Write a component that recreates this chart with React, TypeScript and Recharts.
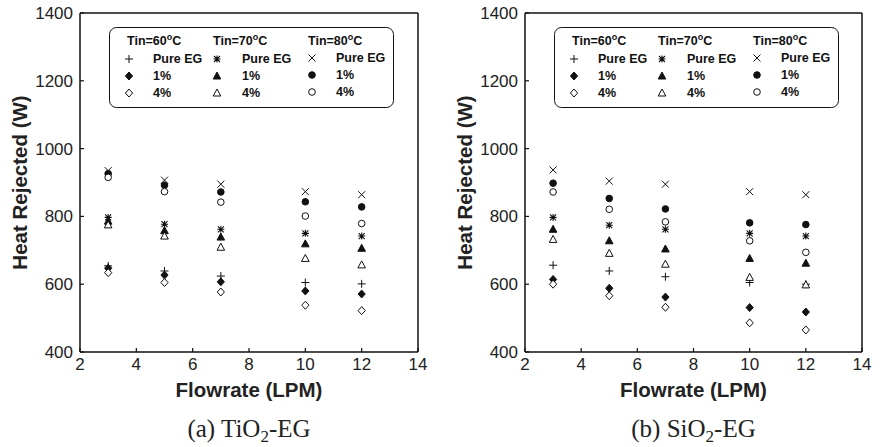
import { ScatterChart, Scatter, XAxis, YAxis, ReferenceLine, Legend, Label } from 'recharts'

const flowrates = [3, 5, 7, 10, 12]
const xTicks = [2, 4, 6, 8, 10, 12, 14]
const yTicks = [400, 600, 800, 1000, 1200, 1400]
const temps = [60, 70, 80]

// (a) TiO2-EG, heat rejected (W) at each flowrate
const tio2_60_pure = [654, 639, 624, 605, 601]
const tio2_60_1 = [647, 627, 607, 580, 571]
const tio2_60_4 = [634, 605, 577, 538, 522]
const tio2_70_pure = [797, 777, 762, 750, 742]
const tio2_70_1 = [786, 758, 739, 719, 706]
const tio2_70_4 = [775, 742, 709, 676, 657]
const tio2_80_pure = [935, 907, 895, 873, 864]
const tio2_80_1 = [926, 892, 872, 843, 828]
const tio2_80_4 = [915, 873, 842, 801, 779]

// (b) SiO2-EG
const sio2_60_pure = [656, 639, 622, 605, 600]
const sio2_60_1 = [614, 588, 562, 531, 518]
const sio2_60_4 = [600, 566, 532, 486, 465]
const sio2_70_pure = [797, 774, 762, 750, 742]
const sio2_70_1 = [762, 728, 704, 676, 662]
const sio2_70_4 = [732, 691, 659, 620, 598]
const sio2_80_pure = [937, 904, 895, 873, 864]
const sio2_80_1 = [898, 853, 822, 781, 776]
const sio2_80_4 = [872, 821, 784, 728, 694]

type Kind = 'plus' | 'diamond' | 'diamondOpen' | 'star' | 'triangle' | 'triangleOpen' | 'cross' | 'circle' | 'circleOpen'

const seriesDefs: { key: string; temp: number; label: string; kind: Kind }[] = [
  { key: '60-pure', temp: 60, label: 'Pure EG', kind: 'plus' },
  { key: '60-1', temp: 60, label: '1%', kind: 'diamond' },
  { key: '60-4', temp: 60, label: '4%', kind: 'diamondOpen' },
  { key: '70-pure', temp: 70, label: 'Pure EG', kind: 'star' },
  { key: '70-1', temp: 70, label: '1%', kind: 'triangle' },
  { key: '70-4', temp: 70, label: '4%', kind: 'triangleOpen' },
  { key: '80-pure', temp: 80, label: 'Pure EG', kind: 'cross' },
  { key: '80-1', temp: 80, label: '1%', kind: 'circle' },
  { key: '80-4', temp: 80, label: '4%', kind: 'circleOpen' },
]

const tio2Values: Record<string, number[]> = {
  '60-pure': tio2_60_pure, '60-1': tio2_60_1, '60-4': tio2_60_4,
  '70-pure': tio2_70_pure, '70-1': tio2_70_1, '70-4': tio2_70_4,
  '80-pure': tio2_80_pure, '80-1': tio2_80_1, '80-4': tio2_80_4,
}
const sio2Values: Record<string, number[]> = {
  '60-pure': sio2_60_pure, '60-1': sio2_60_1, '60-4': sio2_60_4,
  '70-pure': sio2_70_pure, '70-1': sio2_70_1, '70-4': sio2_70_4,
  '80-pure': sio2_80_pure, '80-1': sio2_80_1, '80-4': sio2_80_4,
}

const SANS = '"Liberation Sans", Arial, sans-serif'
const SERIF = '"Liberation Serif", "Times New Roman", serif'
const INK = '#111'

function Marker({ cx, cy, kind }: { cx: number; cy: number; kind: Kind }) {
  const s = 3.5
  switch (kind) {
    case 'plus':
      return <path d={`M${cx - 4},${cy}H${cx + 4}M${cx},${cy - 4}V${cy + 4}`} stroke={INK} strokeWidth={1} fill="none" />
    case 'cross':
      return <path d={`M${cx - s},${cy - s}L${cx + s},${cy + s}M${cx + s},${cy - s}L${cx - s},${cy + s}`} stroke={INK} strokeWidth={1} fill="none" />
    case 'star':
      return (
        <path
          d={`M${cx - 3},${cy - 3}L${cx + 3},${cy + 3}M${cx + 3},${cy - 3}L${cx - 3},${cy + 3}M${cx - 3.5},${cy}H${cx + 3.5}M${cx},${cy - 3.5}V${cy + 3.5}`}
          stroke={INK} strokeWidth={1.1} fill="none"
        />
      )
    case 'diamond':
    case 'diamondOpen':
      return (
        <path
          d={`M${cx},${cy - 4}L${cx + 3.6},${cy}L${cx},${cy + 4}L${cx - 3.6},${cy}Z`}
          fill={kind === 'diamond' ? INK : '#fff'} stroke={INK} strokeWidth={1}
        />
      )
    case 'triangle':
    case 'triangleOpen':
      return (
        <path
          d={`M${cx},${cy - 4}L${cx + 3.8},${cy + 3}L${cx - 3.8},${cy + 3}Z`}
          fill={kind === 'triangle' ? INK : '#fff'} stroke={INK} strokeWidth={1}
        />
      )
    case 'circle':
    case 'circleOpen':
      return <circle cx={cx} cy={cy} r={3.3} fill={kind === 'circle' ? INK : '#fff'} stroke={INK} strokeWidth={1} />
  }
  return null
}

function YTick({ x, y, payload }: any) {
  // x is axis - 7 (tickSize 0, tickMargin 7); draw the inward tick ourselves
  return (
    <g>
      <line x1={x + 7} x2={x + 11} y1={y} y2={y} stroke={INK} strokeWidth={1.2} />
      <text x={x} y={y} dy={6} textAnchor="end" fontFamily={SANS} fontSize={17} fill="#222">{payload.value}</text>
    </g>
  )
}

function XTick({ x, y, payload }: any) {
  return (
    <g>
      <line x1={x} x2={x} y1={y - 4} y2={y - 8} stroke={INK} strokeWidth={1.2} />
      <text x={x} y={y} dy={14} textAnchor="middle" fontFamily={SANS} fontSize={17} fill="#222">{payload.value}</text>
    </g>
  )
}

const colX = [18, 104, 199]
const symX = [20, 108, 203]
const labX = [44, 133, 227]
const rowY = [[36, 53, 70], [36, 53, 70], [35, 52, 69]]

function LegendBox() {
  return (
    <svg width={286} height={82} style={{ display: 'block' }}>
      <rect x={0.5} y={0.5} width={284} height={80} rx={7} fill="#fff" stroke={INK} strokeWidth={1} />
      {temps.map((t, c) => (
        <g key={t}>
          <text x={colX[c]} y={18} fontFamily={SANS} fontSize={12.5} fontWeight="bold" fill={INK}>
            Tin={t}<tspan dy={-5} fontSize={9}>o</tspan><tspan dy={5}>C</tspan>
          </text>
          {seriesDefs.filter((d) => d.temp === t).map((d, r) => (
            <g key={d.key}>
              <Marker cx={symX[c]} cy={rowY[c][r] - 4} kind={d.kind} />
              <text x={labX[c]} y={rowY[c][r]} fontFamily={SANS} fontSize={12.5} fontWeight="bold" fill={INK}>{d.label}</text>
            </g>
          ))}
        </g>
      ))}
    </svg>
  )
}

function Panel({ values, caption, sub, rest, axisWidth, rightMargin }: {
  values: Record<string, number[]>; caption: string; sub: string; rest: string; axisWidth: number; rightMargin: number
}) {
  return (
    <ScatterChart width={440} height={447} margin={{ top: 13, right: rightMargin, bottom: 0, left: 0 }}>
      <XAxis
        type="number" dataKey="x" domain={[2, 14]} ticks={xTicks} allowDataOverflow
        height={95} tickSize={0} tickMargin={4} tickLine={false}
        axisLine={{ stroke: INK, strokeWidth: 1.5 }} tick={<XTick />}
      >
        <Label
          content={({ viewBox }: any) => (
            <g>
              <text x={viewBox.x + viewBox.width / 2} y={viewBox.y + 45} textAnchor="middle" fontFamily={SANS} fontSize={20.5} fontWeight="bold" fill="#222">
                Flowrate (LPM)
              </text>
              <text x={viewBox.x + viewBox.width / 2} y={viewBox.y + 85} textAnchor="middle" fontFamily={SERIF} fontSize={25} fill="#222">
                {caption}<tspan dy={5} fontSize={17}>{sub}</tspan><tspan dy={-5}>{rest}</tspan>
              </text>
            </g>
          )}
        />
      </XAxis>
      <YAxis
        type="number" dataKey="y" domain={[400, 1400]} ticks={yTicks} allowDataOverflow
        width={axisWidth} tickSize={0} tickMargin={7} tickLine={false}
        axisLine={{ stroke: INK, strokeWidth: 1.5 }} tick={<YTick />}
      >
        <Label
          content={({ viewBox }: any) => {
            const cx = viewBox.x + viewBox.width - 60
            const cy = viewBox.y + viewBox.height / 2
            return (
              <text x={cx} y={cy} transform={`rotate(-90 ${cx} ${cy})`} textAnchor="middle" dy={7} fontFamily={SANS} fontSize={20.5} fontWeight="bold" fill="#222">
                Heat Rejected (W)
              </text>
            )
          }}
        />
      </YAxis>
      <ReferenceLine y={1400} stroke={INK} strokeWidth={1.5} />
      <ReferenceLine x={14} stroke={INK} strokeWidth={1.5} />
      {seriesDefs.map((d) => (
        <Scatter
          key={d.key}
          name={d.key}
          data={flowrates.map((f, i) => ({ x: f, y: values[d.key][i] }))}
          isAnimationActive={false}
          shape={(p: any) => <Marker cx={p.cx} cy={p.cy} kind={d.kind} />}
        />
      ))}
      <Legend
        layout="vertical" align="center" verticalAlign="middle"
        wrapperStyle={{ position: 'absolute', left: axisWidth + 29, top: 27, width: 286, height: 82 }}
        content={() => <LegendBox />}
      />
    </ScatterChart>
  )
}

export default function App() {
  return (
    <div style={{ position: 'absolute', left: 0, top: 0, width: 880, height: 447, background: '#fff' }}>
      <div style={{ position: 'absolute', left: 0, top: 0 }}>
        <Panel values={tio2Values} caption="(a) TiO" sub="2" rest="-EG" axisWidth={80} rightMargin={22} />
      </div>
      <div style={{ position: 'absolute', left: 440, top: 0 }}>
        <Panel values={sio2Values} caption="(b) SiO" sub="2" rest="-EG" axisWidth={85} rightMargin={18} />
      </div>
    </div>
  )
}
